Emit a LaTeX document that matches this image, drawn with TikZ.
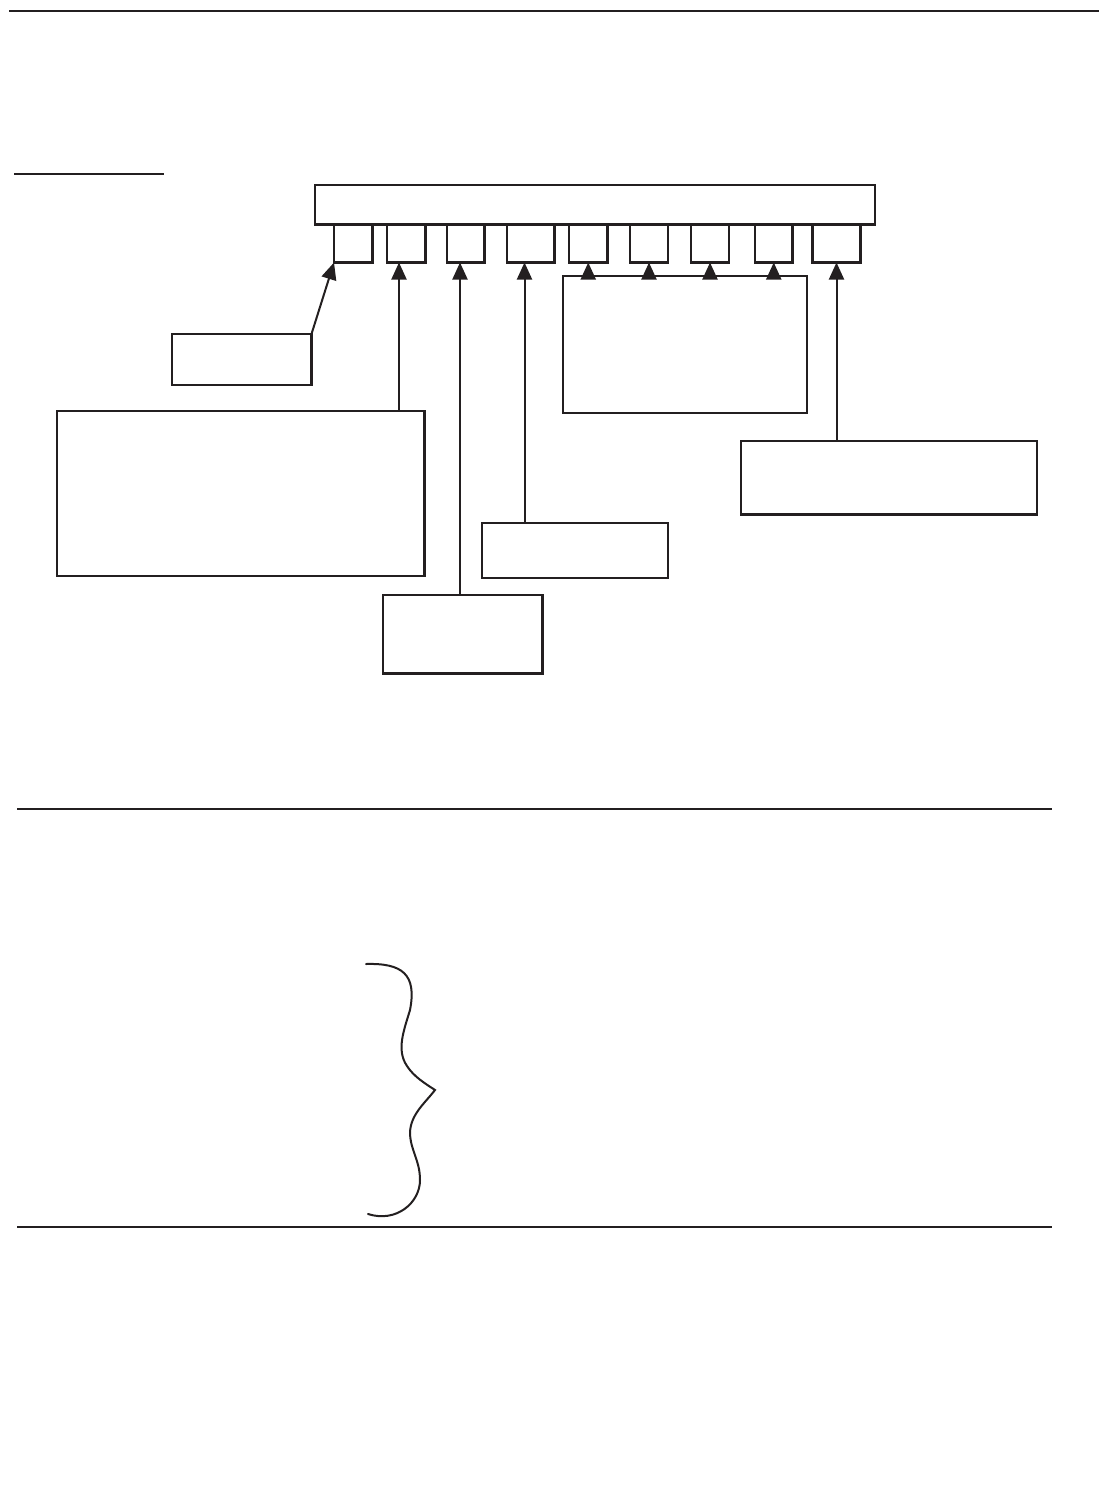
\documentclass[tikz,border=0pt]{standalone}
\usetikzlibrary{arrows.meta}
\definecolor{ink}{HTML}{231F20}
\begin{document}
\begin{tikzpicture}[x=1pt,y=-1pt,
  box/.style={draw=ink,line width=2.2pt,inner sep=0pt,outer sep=0pt,anchor=north west,fill=none},
  arr/.style={draw=ink,line width=2pt,-{Triangle[length=17pt,width=15pt]}},
  rule/.style={draw=ink,line width=2.6pt},
  conn/.style={draw=ink,line width=2pt}]
\useasboundingbox (0,0) rectangle (1099,1485);
% rules
\coordinate (t1) at (9,11); \coordinate (t2) at (1099,11);
\draw[rule] (t1) -- (t2);
\coordinate (s1) at (14,174); \coordinate (s2) at (164,174);
\draw[draw=ink,line width=1.6pt] (s1) -- (s2);
\coordinate (m1) at (17,809); \coordinate (m2) at (1052,809);
\draw[rule] (m1) -- (m2);
\coordinate (n1) at (17,1227); \coordinate (n2) at (1052,1227);
\draw[rule] (n1) -- (n2);
% main bar
\node[box,minimum width=560pt,minimum height=39.5pt] (bar) at (315,185) {};
% small boxes
\node[box,minimum width=38.5pt,minimum height=38pt] (b1) at (334,224.5) {};
\node[box,minimum width=38.5pt,minimum height=38pt] (b2) at (387,224.5) {};
\node[box,minimum width=37.5pt,minimum height=38pt] (b3) at (447,224.5) {};
\node[box,minimum width=47.5pt,minimum height=38pt] (b4) at (507,224.5) {};
\node[box,minimum width=38.5pt,minimum height=38pt] (b5) at (569,224.5) {};
\node[box,minimum width=38pt,minimum height=38pt] (b6) at (630,224.5) {};
\node[box,minimum width=38pt,minimum height=38pt] (b7) at (691,224.5) {};
\node[box,minimum width=37.5pt,minimum height=38pt] (b8) at (755,224.5) {};
\node[box,minimum width=48pt,minimum height=38pt] (b9) at (812.5,224.5) {};
% label boxes
\node[box,minimum width=139.5pt,minimum height=51pt] (sb) at (172,334) {};
\node[box,minimum width=367.5pt,minimum height=165pt] (lb) at (57,411) {};
\node[box,minimum width=159.5pt,minimum height=78.5pt] (cb) at (383,595) {};
\node[box,minimum width=186pt,minimum height=55pt] (mb) at (482,523) {};
\node[box,minimum width=244pt,minimum height=137pt] (gb) at (563,276) {};
\node[box,minimum width=296pt,minimum height=73.5pt] (rb) at (741,441) {};
% connectors
\coordinate (x2) at (399,0);
\coordinate (x3) at (460,0);
\coordinate (x4) at (524.5,0);
\draw[arr] (sb.north east) -- (b1.south west);
\draw[arr] (lb.north -| x2) -- (b2.south -| x2);
\draw[arr] (cb.north -| x3) -- (b3.south -| x3);
\draw[arr] (mb.north -| x4) -- (b4.south -| x4);
\draw[arr] (gb.north -| b5.south) -- (b5.south);
\draw[arr] (gb.north -| b6.south) -- (b6.south);
\draw[arr] (gb.north -| b7.south) -- (b7.south);
\draw[arr] (gb.north -| b8.south) -- (b8.south);
\draw[arr] (rb.north -| b9.south) -- (b9.south);
% brace
\coordinate (br0) at (366,964);
\coordinate (br1) at (410,1010);
\coordinate (br2) at (407,1066);
\coordinate (br3) at (435,1090);
\coordinate (br4) at (410,1132);
\coordinate (br5) at (420,1180);
\coordinate (br6) at (368,1214);
\draw[conn,line cap=round]
  (br0) .. controls (402,963) and (417,974) .. (br1)
        .. controls (404,1030) and (396,1050) .. (br2)
        .. controls (414,1077) and (426,1084) .. (br3)
        .. controls (425,1103) and (411,1114) .. (br4)
        .. controls (410,1150) and (420,1160) .. (br5)
        .. controls (420,1203) and (396,1223) .. (br6);
\end{tikzpicture}
\end{document}
